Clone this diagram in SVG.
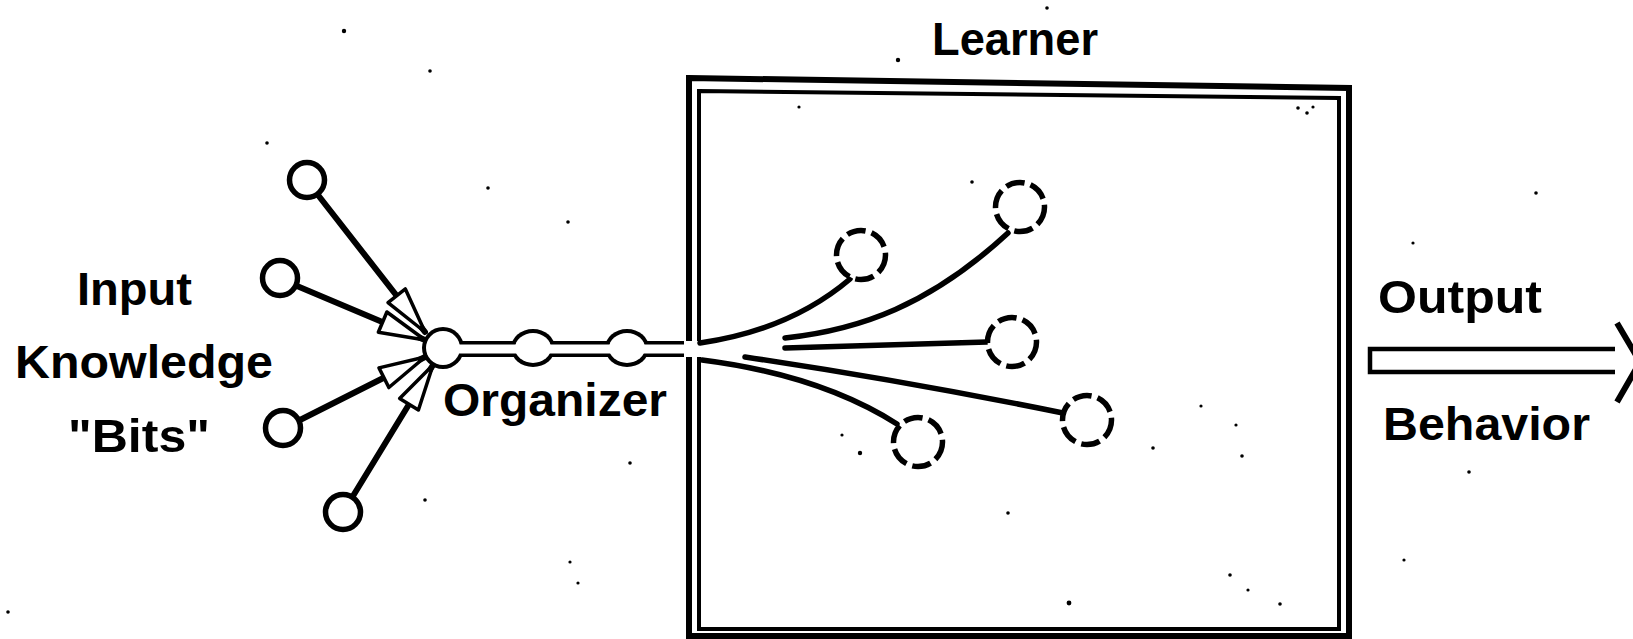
<svg xmlns="http://www.w3.org/2000/svg" width="1633" height="639" viewBox="0 0 1633 639">
<defs>
<style>
.lbl{font-family:"Liberation Sans",Arial,sans-serif;font-weight:bold;font-size:47px;fill:#000}
.in{fill:#fff;stroke:#000;stroke-width:5.5}
.shaft{fill:none;stroke:#000;stroke-width:6;stroke-linecap:round}
.branch{fill:none;stroke:#000;stroke-width:5.5;stroke-linecap:round}
.out{fill:#fff;stroke:#000;stroke-width:5.5;stroke-dasharray:19 6.1}
.box{fill:none;stroke:#000}
.speck{fill:#000}
</style>
<marker id="hollow" viewBox="-3 -14 54 28" refX="46" refY="0" markerWidth="54" markerHeight="28" orient="auto" markerUnits="userSpaceOnUse">
<path d="M0,-11 L46,0 L0,11 Z" fill="#fff" stroke="#000" stroke-width="3.5" stroke-linejoin="round"/>
</marker>
</defs>
<rect width="1633" height="639" fill="#fff"/>

<g id="learner-box">
<polygon class="box" stroke-width="6" points="689,78 1349,88 1349,636 689,636"/>
<polygon class="box" stroke-width="4" points="699,91 1339,98 1339,629 699,629"/>
<rect x="683" y="341" width="22" height="16" fill="#fff"/>
</g>

<g id="connectors">
<line class="shaft" x1="318" y1="195" x2="425" y2="332" marker-end="url(#hollow)"/>
<line class="shaft" x1="297" y1="286" x2="425" y2="340" marker-end="url(#hollow)"/>
<line class="shaft" x1="300" y1="420" x2="425" y2="357" marker-end="url(#hollow)"/>
<line class="shaft" x1="353" y1="496" x2="433" y2="365" marker-end="url(#hollow)"/>
<path class="branch" d="M700 343 Q790 330 850 279"/>
<path class="branch" d="M785 338 C860 330 930 305 1008 233"/>
<path class="branch" d="M785 348 L987 342"/>
<path class="branch" d="M745 357 Q900 380 1063 413"/>
<path class="branch" d="M702 360 Q820 375 897 424"/>
<g id="output-arrow">
<path d="M1615 349 H1370 V372 H1615" fill="none" stroke="#000" stroke-width="4.5"/>
<path d="M1617 323 L1640 362 L1617 402" fill="none" stroke="#000" stroke-width="6"/>
</g>
</g>

<g id="organizer">
<line x1="443" y1="349" x2="684" y2="349" stroke="#000" stroke-width="16"/>
<circle cx="443" cy="348" r="21" fill="#000"/>
<ellipse cx="533" cy="348" rx="22" ry="19" fill="#000"/>
<ellipse cx="627" cy="348" rx="22" ry="19" fill="#000"/>
<circle cx="443" cy="348" r="17" fill="#fff"/>
<ellipse cx="533" cy="348" rx="18" ry="15" fill="#fff"/>
<ellipse cx="627" cy="348" rx="18" ry="15" fill="#fff"/>
<line x1="443" y1="349" x2="684" y2="349" stroke="#fff" stroke-width="9"/>
<text class="lbl" x="443" y="416" textLength="224" lengthAdjust="spacingAndGlyphs">Organizer</text>
</g>

<g id="input-bits">
<circle class="in" cx="307" cy="180" r="17.5"/>
<circle class="in" cx="280" cy="278" r="17.5"/>
<circle class="in" cx="283" cy="428" r="17.5"/>
<circle class="in" cx="343" cy="512" r="17.5"/>
</g>

<g id="learned-bits">
<circle class="out" cx="861" cy="255" r="24.5"/>
<circle class="out" cx="1020" cy="207" r="24.5"/>
<circle class="out" cx="1012" cy="342" r="24.5"/>
<circle class="out" cx="1087" cy="420" r="24.5"/>
<circle class="out" cx="918" cy="442" r="24.5"/>
</g>

<g id="labels">
<text class="lbl" x="932" y="55" font-size="49" textLength="166" lengthAdjust="spacingAndGlyphs">Learner</text>
<text class="lbl" x="77" y="305" textLength="115" lengthAdjust="spacingAndGlyphs">Input</text>
<text class="lbl" x="15" y="378" textLength="258" lengthAdjust="spacingAndGlyphs">Knowledge</text>
<text class="lbl" x="68" y="452" textLength="142" lengthAdjust="spacingAndGlyphs">"Bits"</text>
<text class="lbl" x="1378" y="313" textLength="164" lengthAdjust="spacingAndGlyphs">Output</text>
<text class="lbl" x="1383" y="440" textLength="207" lengthAdjust="spacingAndGlyphs">Behavior</text>
</g>

<g id="specks">
<circle class="speck" cx="344" cy="31" r="2.2"/>
<circle class="speck" cx="430" cy="71" r="1.8"/>
<circle class="speck" cx="267" cy="143" r="1.8"/>
<circle class="speck" cx="488" cy="188" r="1.8"/>
<circle class="speck" cx="568" cy="222" r="1.8"/>
<circle class="speck" cx="630" cy="463" r="1.8"/>
<circle class="speck" cx="425" cy="500" r="1.8"/>
<circle class="speck" cx="972" cy="182" r="1.8"/>
<circle class="speck" cx="842" cy="435" r="1.6"/>
<circle class="speck" cx="860" cy="453" r="2.2"/>
<circle class="speck" cx="1298" cy="108" r="1.8"/>
<circle class="speck" cx="1307" cy="113" r="1.8"/>
<circle class="speck" cx="1313" cy="107" r="1.6"/>
<circle class="speck" cx="1047" cy="8" r="1.8"/>
<circle class="speck" cx="898" cy="60" r="2.2"/>
<circle class="speck" cx="799" cy="107" r="1.6"/>
<circle class="speck" cx="1201" cy="406" r="1.6"/>
<circle class="speck" cx="1236" cy="425" r="1.6"/>
<circle class="speck" cx="1153" cy="448" r="1.8"/>
<circle class="speck" cx="1242" cy="456" r="1.8"/>
<circle class="speck" cx="1008" cy="513" r="1.8"/>
<circle class="speck" cx="1069" cy="603" r="2.4"/>
<circle class="speck" cx="1230" cy="575" r="1.8"/>
<circle class="speck" cx="1248" cy="590" r="1.6"/>
<circle class="speck" cx="1280" cy="604" r="1.8"/>
<circle class="speck" cx="1536" cy="193" r="1.8"/>
<circle class="speck" cx="1413" cy="243" r="1.6"/>
<circle class="speck" cx="1469" cy="472" r="1.8"/>
<circle class="speck" cx="1404" cy="560" r="1.6"/>
<circle class="speck" cx="8" cy="612" r="1.8"/>
<circle class="speck" cx="570" cy="562" r="1.6"/>
<circle class="speck" cx="578" cy="583" r="1.6"/>
</g>
</svg>
